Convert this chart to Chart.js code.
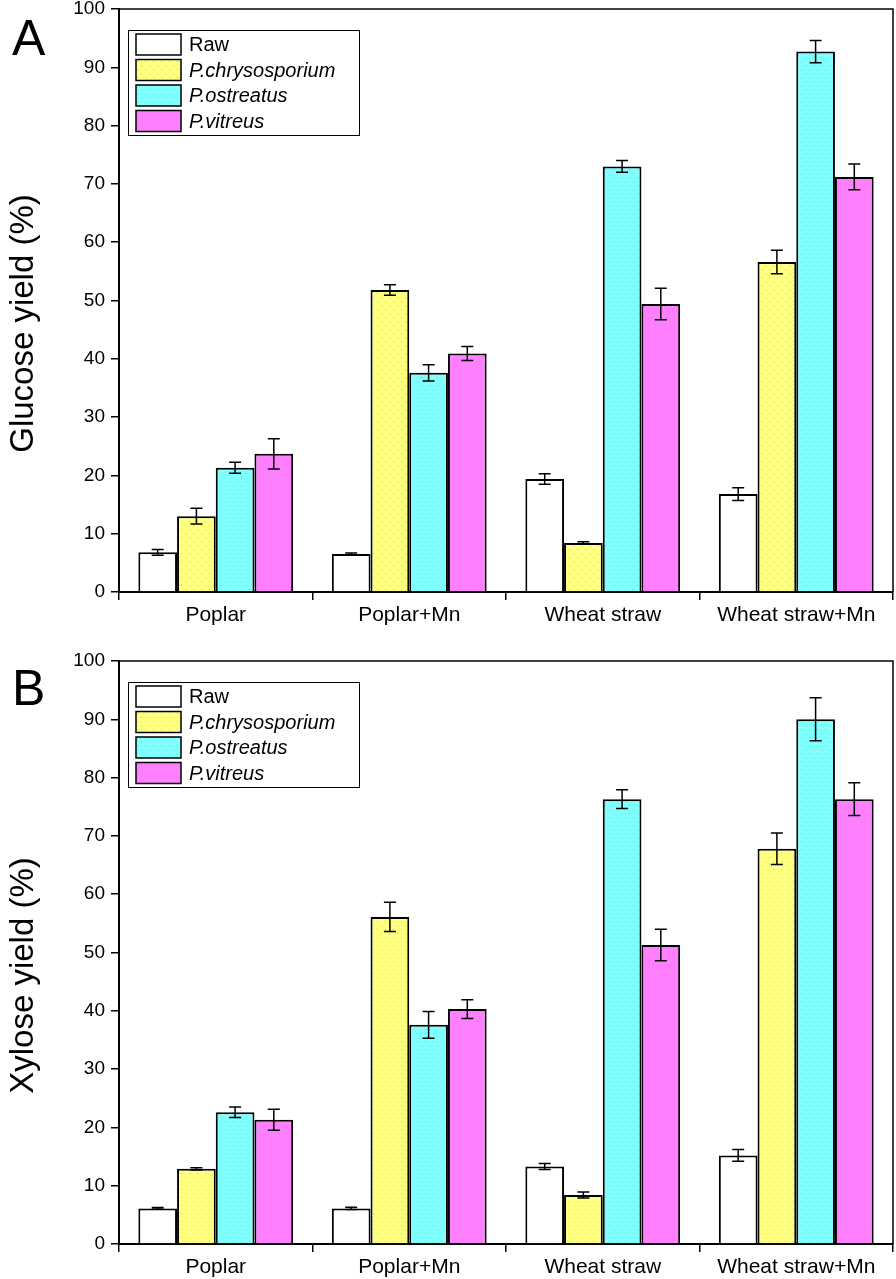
<!DOCTYPE html>
<html>
<head>
<meta charset="utf-8">
<script src="https://cdn.jsdelivr.net/npm/chart.js@4.4.1/dist/chart.umd.min.js"></script>
<style>
  html, body { margin: 0; padding: 0; background: #fff; }
  body { width: 896px; height: 1279px; position: relative; overflow: hidden; }
  .panel { position: absolute; left: 0; width: 896px; }
</style>
</head>
<body>
<div class="panel" style="top:-12px;height:652px;"><canvas id="chartA" width="896" height="652"></canvas></div>
<div class="panel" style="top:640px;height:639px;"><canvas id="chartB" width="896" height="639"></canvas></div>
<script>
// ---------- DATA ----------
const categories = ['Poplar', 'Poplar+Mn', 'Wheat straw', 'Wheat straw+Mn'];
const seriesNames = ['Raw', 'P.chrysosporium', 'P.ostreatus', 'P.vitreus'];
const yTicks = [0, 10, 20, 30, 40, 50, 60, 70, 80, 90, 100];

// Panel A: Glucose yield (%)
const glucoseRaw    = [6.8, 6.5, 19.4, 16.8];
const glucoseRawErr = [0.5, 0.2, 0.9, 1.1];
const glucoseChr    = [13.0, 51.8, 8.4, 56.6];
const glucoseChrErr = [1.35, 0.9, 0.2, 2.0];
const glucoseOst    = [21.3, 37.6, 73.0, 92.7];
const glucoseOstErr = [0.95, 1.4, 1.0, 1.9];
const glucoseVit    = [23.7, 40.9, 49.4, 71.2];
const glucoseVitErr = [2.6, 1.2, 2.7, 2.2];

// Panel B: Xylose yield (%)
const xyloseRaw    = [6.1, 6.1, 13.3, 15.2];
const xyloseRawErr = [0.15, 0.2, 0.5, 1.0];
const xyloseChr    = [12.9, 56.1, 8.4, 67.8];
const xyloseChrErr = [0.2, 2.5, 0.5, 2.7];
const xyloseOst    = [22.6, 37.6, 76.3, 90.0];
const xyloseOstErr = [0.9, 2.3, 1.6, 3.7];
const xyloseVit    = [21.3, 40.3, 51.3, 76.3];
const xyloseVitErr = [1.8, 1.6, 2.7, 2.8];

// ---------- STYLE ----------
const FONT = '"Liberation Sans", Arial, Helvetica, sans-serif';
const baseColors = ['#ffffff', '#ffff80', '#80ffff', '#ff80ff'];
const dotColors  = [null, '#c8c8a0', '#9ab8e8', '#c888e8'];

function makePattern(base, dot) {
  if (!dot) return base;
  const c = document.createElement('canvas');
  c.width = 8; c.height = 8;
  const g = c.getContext('2d');
  g.fillStyle = base; g.fillRect(0, 0, 8, 8);
  g.fillStyle = dot;
  g.fillRect(1, 1, 1, 1);
  g.fillRect(5, 5, 1, 1);
  return g.createPattern(c, 'repeat');
}

const errorBarPlugin = {
  id: 'errorBars',
  afterDatasetsDraw(chart) {
    const ctx = chart.ctx;
    const y = chart.scales.y;
    ctx.save();
    ctx.strokeStyle = '#000';
    ctx.lineWidth = 1.5;
    chart.data.datasets.forEach((ds, di) => {
      const meta = chart.getDatasetMeta(di);
      meta.data.forEach((bar, i) => {
        const v = ds.data[i], e = ds.errors[i];
        const x = bar.x;
        const yTop = y.getPixelForValue(v + e);
        const yBot = y.getPixelForValue(v - e);
        ctx.beginPath();
        ctx.moveTo(x, yTop); ctx.lineTo(x, yBot);
        ctx.moveTo(x - 6, yTop); ctx.lineTo(x + 6, yTop);
        ctx.moveTo(x - 6, yBot); ctx.lineTo(x + 6, yBot);
        ctx.stroke();
      });
    });
    ctx.restore();
  }
};

const decorPlugin = {
  id: 'decor',
  afterDraw(chart, args, opts) {
    const ctx = chart.ctx;
    const a = chart.chartArea;
    ctx.save();
    // frame (top & right)
    ctx.strokeStyle = '#000';
    ctx.lineWidth = 1.5;
    ctx.beginPath();
    ctx.moveTo(a.left, a.top); ctx.lineTo(a.right, a.top); ctx.lineTo(a.right, a.bottom);
    ctx.stroke();

    // legend
    const bx = 128, by = a.top + 21, bw = 231, bh = 105;
    ctx.lineWidth = 1;
    ctx.strokeRect(bx + 0.5, by + 0.5, bw, bh);
    chart.data.datasets.forEach((ds, i) => {
      const sy = by + 4 + i * 25.5;
      ctx.fillStyle = ds.backgroundColor;
      ctx.fillRect(136, sy, 45, 21);
      ctx.lineWidth = 1.5;
      ctx.strokeStyle = '#000';
      ctx.strokeRect(136, sy, 45, 21);
      ctx.fillStyle = '#000';
      ctx.font = (i === 0 ? '' : 'italic ') + '20px ' + FONT;
      ctx.textBaseline = 'middle';
      ctx.textAlign = 'left';
      ctx.fillText(ds.label, 189, sy + 11.5);
    });

    // y-axis title
    ctx.save();
    ctx.translate(33, (a.top + a.bottom) / 2 + 23);
    ctx.rotate(-Math.PI / 2);
    ctx.font = '33px ' + FONT;
    ctx.fillStyle = '#000';
    ctx.textAlign = 'center';
    ctx.textBaseline = 'alphabetic';
    ctx.fillText(opts.yTitle, 0, 0);
    ctx.restore();

    // panel letter
    ctx.font = '50px ' + FONT;
    ctx.fillStyle = '#000';
    ctx.textAlign = 'left';
    ctx.textBaseline = 'alphabetic';
    ctx.fillText(opts.letter, opts.letterX, opts.letterY);
    ctx.restore();
  }
};

function makeChart(id, vals, errs, yTitle, letter, letterX, letterY, padTop, xAxisHeight) {
  const datasets = seriesNames.map((name, i) => ({
    label: name,
    data: vals[i],
    errors: errs[i],
    backgroundColor: makePattern(baseColors[i], dotColors[i]),
    borderColor: '#000',
    borderWidth: 2,
    categoryPercentage: 0.8,
    barPercentage: 1.0
  }));
  return new Chart(document.getElementById(id), {
    type: 'bar',
    data: { labels: categories, datasets },
    options: {
      responsive: false,
      animation: false,
      devicePixelRatio: 1,
      layout: { padding: { top: padTop, right: 3, left: 0, bottom: 0 } },
      plugins: {
        legend: { display: false },
        tooltip: { enabled: false },
        decor: { yTitle, letter, letterX, letterY }
      },
      scales: {
        x: {
          grid: { display: true, drawOnChartArea: false, drawTicks: true, tickLength: 8, color: '#000', lineWidth: 1.5, offset: true },
          border: { display: true, color: '#000', width: 2 },
          ticks: { color: '#000', font: { size: 21, family: FONT }, padding: 3 },
          afterFit(s) { s.height = xAxisHeight; }
        },
        y: {
          min: 0, max: 100,
          afterBuildTicks(s) { s.ticks = yTicks.map(v => ({ value: v })); },
          grid: { display: true, drawOnChartArea: false, drawTicks: true, tickLength: 8, color: '#000', lineWidth: 1.5 },
          border: { display: true, color: '#000', width: 2 },
          ticks: { color: '#000', font: { size: 19, family: FONT }, padding: 6 },
          afterFit(s) { s.width = 119; }
        }
      }
    },
    plugins: [errorBarPlugin, decorPlugin]
  });
}

makeChart('chartA',
  [glucoseRaw, glucoseChr, glucoseOst, glucoseVit],
  [glucoseRawErr, glucoseChrErr, glucoseOstErr, glucoseVitErr],
  'Glucose yield (%)', 'A', 12, 67, 21, 48);

makeChart('chartB',
  [xyloseRaw, xyloseChr, xyloseOst, xyloseVit],
  [xyloseRawErr, xyloseChrErr, xyloseOstErr, xyloseVitErr],
  'Xylose yield (%)', 'B', 12, 65, 21, 35);
</script>
</body>
</html>
